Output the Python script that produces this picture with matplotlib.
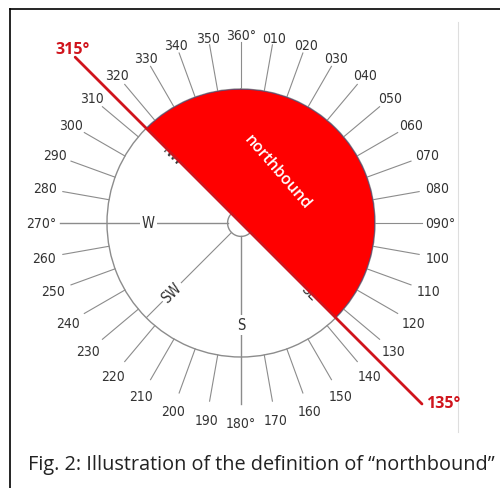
import numpy as np
import matplotlib
matplotlib.use('Agg')
import matplotlib.pyplot as plt

# Compass data
bearings = list(range(0, 360, 10))
bearing_labels = ['360°', '010', '020', '030', '040', '050', '060', '070', '080',
                  '090°', '100', '110', '120', '130', '140', '150', '160', '170',
                  '180°', '190', '200', '210', '220', '230', '240', '250', '260',
                  '270°', '280', '290', '300', '310', '320', '330', '340', '350']
cardinal_bearings = [270, 180, 225, 315, 135]
cardinal_labels = ['W', 'S', 'SW', 'NW', 'SE']
northbound_from = 315
northbound_to = 135
caption = 'Fig. 2: Illustration of the definition of \u201cnorthbound\u201d'

grey = '#8c8c8c'
label_col = '#333333'
red_fill = '#ff0000'
red_line = '#d0141c'
label_font = dict(family=['Liberation Sans Narrow', 'DejaVu Sans'], fontstretch='condensed')

fig = plt.figure(figsize=(5, 4.89), dpi=100)

# background axes in pixel units for the frame
bg = fig.add_axes([0, 0, 1, 1])
bg.set_xlim(0, 500)
bg.set_ylim(489, 0)
bg.axis('off')
bg.plot([10, 500], [10, 10], color='black', lw=1.2)
bg.plot([10, 10], [10, 489], color='black', lw=1.2)
bg.plot([458, 458], [23, 433], color='#dedede', lw=0.8)

# compass (polar axes, r=1 is the outer circle)
cx, cy, rad = 241, 224, 134
ax = fig.add_axes([(cx - rad) / 500, (489 - cy - rad) / 489, 2 * rad / 500, 2 * rad / 489],
                  projection='polar')
ax.set_theta_zero_location('N')
ax.set_theta_direction(-1)
ax.set_ylim(0, 1)
ax.grid(False)
ax.set_xticks([])
ax.set_yticks([])
ax.spines['polar'].set_color(grey)
ax.spines['polar'].set_linewidth(1.0)
ax.patch.set_alpha(0)


def label_radius(b):
    # top labels sit a bit closer to the circle than the rest
    c = max(np.cos(np.radians(b)), 0)
    return 1.49 - 0.09 * c ** 2


for b, lab in zip(bearings, bearing_labels):
    th = np.radians(b)
    if b in (270, 180):
        ax.plot([th, th], [0.1, 1.35], color=grey, lw=1.0, clip_on=False, zorder=1)
    else:
        ax.plot([th, th], [1.0, 1.35], color=grey, lw=0.8, clip_on=False, zorder=1)
    ax.text(th, label_radius(b), lab, ha='center', va='center', fontsize=10, color=label_col,
            clip_on=False, zorder=1, **label_font)

# SW diagonal and inner circle
for b in (225, 315, 135):
    ax.plot([np.radians(b)] * 2, [0.1, 1.0], color=grey, lw=0.8, zorder=1)
ring = np.linspace(0, 2 * np.pi, 100)
ax.plot(ring, np.full_like(ring, 0.1), color=grey, lw=1.0, zorder=1)

rots = {'W': 0, 'S': 0, 'SW': 45, 'NW': -45, 'SE': -45}
rads = {'W': 0.69, 'S': 0.76, 'SW': 0.73, 'NW': 0.72, 'SE': 0.72}
for b, lab in zip(cardinal_bearings, cardinal_labels):
    ax.text(np.radians(b), rads[lab], lab, ha='center', va='center', fontsize=10.5,
            color=label_col, rotation=rots[lab], zorder=2,
            bbox=dict(boxstyle='square,pad=0.15', fc='white', ec='none'), **label_font)

# northbound half
arc = np.radians(np.linspace(northbound_from - 360, northbound_to, 120))
ax.fill(np.r_[arc, 0], np.r_[np.ones_like(arc), 0], color=red_fill, ec='#4a4f80',
        lw=1.0, zorder=3)
ax.text(np.radians(35.7), 0.47, 'northbound', color='white', fontsize=11.5, rotation=-49,
        ha='center', va='center', zorder=5, family='Open Sans', fontweight='semibold')

# dividing line
t1, t2 = np.radians(northbound_from), np.radians(northbound_to)
ax.plot([t1, t1, t2, t2], [1.75, 0, 0, 1.91], color=red_line, lw=2.0,
        clip_on=False, zorder=4, solid_capstyle='round')
ax.text(np.radians(316), 1.81, '315°', color=red_line, fontsize=11.5, fontweight='bold',
        ha='center', va='center', clip_on=False, family='Open Sans')
ax.text(np.radians(131.7), 2.02, '135°', color=red_line, fontsize=11.5, fontweight='bold',
        ha='center', va='center', clip_on=False, family='Open Sans')

fig.text(28 / 500, 1 - 470 / 489, caption, fontsize=14.3, color='#222222',
         family='Open Sans', va='baseline')

fig.savefig('out.png', dpi=100)
